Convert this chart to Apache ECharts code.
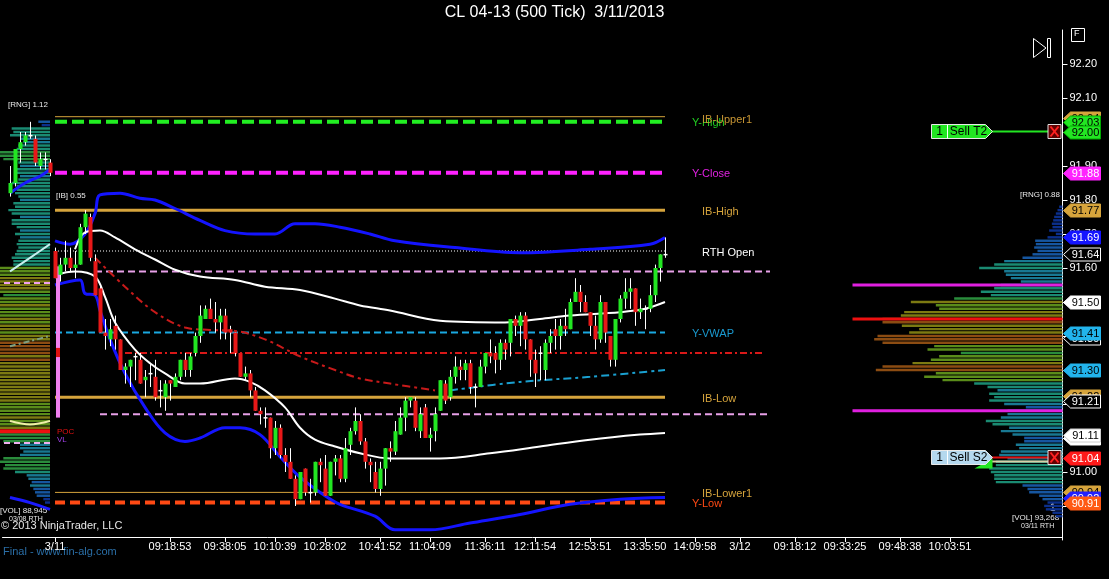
<!DOCTYPE html>
<html><head><meta charset="utf-8">
<script src="https://cdn.jsdelivr.net/npm/echarts/dist/echarts.min.js"></script>
<style>html,body{margin:0;padding:0;background:#000;}#c{width:1109px;height:579px;}</style>
</head><body><div id="c"></div>
<script>
// ---------------- DATA ----------------
const chartTitle = 'CL 04-13 (500 Tick)  3/11/2013';

// previous session (3/8) candles [open, close, low, high]
const prevCandles = [
 [91.82,91.85,91.81,91.90],[91.85,91.95,91.84,91.95],[91.95,91.97,91.91,92.00],[91.97,91.99,91.96,92.00],
 [91.99,91.99,91.98,92.03],[91.98,91.91,91.90,91.99],[91.90,91.92,91.89,91.94],[91.92,91.92,91.89,91.94],
 [91.91,91.88,91.87,91.92]
];
// 3/11 session candles [open, close, low, high]
const candles = [
 [91.65,91.57,91.57,91.66],[91.58,91.61,91.56,91.63],[91.61,91.63,91.59,91.68],[91.63,91.60,91.59,91.66],
 [91.60,91.61,91.57,91.65],[91.61,91.72,91.61,91.73],[91.72,91.76,91.70,91.77],[91.75,91.63,91.62,91.76],
 [91.62,91.52,91.52,91.64],[91.54,91.41,91.41,91.55],[91.41,91.40,91.36,91.45],[91.39,91.42,91.37,91.45],
 [91.43,91.39,91.36,91.46],[91.39,91.30,91.30,91.39],[91.30,91.31,91.26,91.32],[91.31,91.33,91.25,91.33],
 [91.34,91.34,91.27,91.35],[91.33,91.26,91.26,91.35],[91.27,91.28,91.22,91.30],[91.29,91.29,91.25,91.32],
 [91.28,91.22,91.21,91.33],[91.24,91.24,91.19,91.27],[91.22,91.26,91.18,91.27],[91.27,91.26,91.21,91.27],
 [91.25,91.28,91.25,91.29],[91.28,91.33,91.27,91.33],[91.33,91.30,91.28,91.35],[91.30,91.34,91.28,91.35],
 [91.35,91.40,91.34,91.41],[91.40,91.46,91.38,91.49],[91.45,91.48,91.45,91.49],[91.48,91.45,91.45,91.51],
 [91.45,91.44,91.41,91.50],[91.44,91.46,91.39,91.48],[91.46,91.41,91.39,91.48],[91.42,91.41,91.35,91.43],
 [91.41,91.35,91.34,91.41],[91.35,91.28,91.28,91.35],[91.28,91.29,91.27,91.31],[91.29,91.24,91.22,91.30],
 [91.24,91.18,91.18,91.25],[91.18,91.17,91.14,91.19],[91.16,91.16,91.13,91.19],[91.16,91.07,91.04,91.16],
 [91.07,91.13,91.05,91.15],[91.13,91.05,91.04,91.14],[91.05,91.03,91.00,91.07],[91.03,90.98,90.98,91.07],
 [90.98,90.92,90.90,90.99],[90.92,91.00,90.92,91.00],[91.01,90.94,90.93,91.01],[90.94,90.94,90.91,90.98],
 [90.94,91.03,90.93,91.03],[91.03,91.02,90.97,91.04],[91.01,90.93,90.93,91.05],[90.93,91.03,90.93,91.03],
 [91.03,91.04,90.99,91.05],[91.04,90.98,90.97,91.05],[90.98,91.07,90.97,91.10],[91.08,91.12,91.05,91.13],
 [91.12,91.15,91.11,91.19],[91.15,91.09,91.08,91.17],[91.09,91.03,91.01,91.10],[91.03,91.02,90.97,91.04],
 [91.00,90.95,90.94,91.03],[90.95,91.01,90.93,91.03],[91.01,91.07,90.96,91.07],[91.07,91.06,91.03,91.09],
 [91.06,91.12,91.05,91.15],[91.11,91.16,91.11,91.19],[91.16,91.21,91.12,91.22],[91.21,91.22,91.19,91.22],
 [91.21,91.13,91.12,91.22],[91.12,91.17,91.10,91.19],[91.19,91.10,91.10,91.20],[91.10,91.11,91.06,91.13],
 [91.12,91.17,91.09,91.19],[91.18,91.27,91.18,91.27],[91.26,91.21,91.20,91.27],[91.22,91.28,91.21,91.30],
 [91.28,91.31,91.26,91.34],[91.31,91.30,91.27,91.33],[91.30,91.32,91.27,91.33],[91.32,91.25,91.23,91.33],
 [91.25,91.25,91.19,91.26],[91.25,91.31,91.25,91.33],[91.31,91.35,91.29,91.35],[91.35,91.34,91.32,91.39],
 [91.35,91.33,91.29,91.37],[91.33,91.38,91.30,91.39],[91.38,91.36,91.33,91.39],[91.38,91.45,91.34,91.45],
 [91.45,91.43,91.40,91.46],[91.43,91.46,91.37,91.47],[91.46,91.39,91.36,91.47],[91.39,91.33,91.28,91.39],
 [91.33,91.29,91.25,91.36],[91.35,91.35,91.27,91.37],[91.30,91.38,91.27,91.39],[91.38,91.40,91.35,91.42],
 [91.42,91.40,91.36,91.45],[91.40,91.43,91.36,91.45],[91.43,91.42,91.40,91.48],[91.42,91.50,91.42,91.51],
 [91.50,91.53,91.50,91.57],[91.53,91.50,91.47,91.55],[91.50,91.47,91.47,91.52],[91.47,91.43,91.40,91.47],
 [91.43,91.39,91.36,91.46],[91.39,91.50,91.38,91.52],[91.50,91.41,91.38,91.50],[91.40,91.33,91.31,91.40],
 [91.33,91.45,91.31,91.45],[91.45,91.51,91.44,91.52],[91.51,91.53,91.48,91.57],[91.53,91.54,91.48,91.57],
 [91.54,91.47,91.43,91.54],[91.47,91.48,91.45,91.51],[91.48,91.48,91.42,91.49],[91.48,91.52,91.47,91.55],
 [91.52,91.60,91.50,91.61],[91.60,91.64,91.56,91.64],[91.64,91.64,91.63,91.69]
];
const prevStartIndex = 1;
const dayStartIndex = 10;
const barCount = 212;

// x-axis tick labels and the bar index where each sits
const tickIndex = [10,33,44,54,64,75,85,96,106,117,128,138,147,158,168,179,189];
const tickText  = ['3/11','09:18:53','09:38:05','10:10:39','10:28:02','10:41:52','11:04:09','11:36:11','12:11:54','12:53:51','13:35:50','14:09:58','3/12','09:18:12','09:33:25','09:48:38','10:03:51'];

// indicator curves [bar index, price]
const upperBand = [[10,91.68],[13,91.67],[16,91.70],[18,91.76],[19,91.815],[23,91.82],[27,91.805],[30,91.80],[34,91.775],[39,91.74],[44,91.71],[50,91.70],[54,91.70],[58,91.73],[62,91.73],[67,91.72],[73,91.70],[78,91.68],[90,91.66],[103,91.645],[117,91.655],[129,91.67],[132,91.69]];
const lowerBand = [[10,91.55],[15,91.565],[16,91.525],[18,91.52],[19,91.475],[21,91.39],[24,91.29],[28,91.19],[32,91.115],[36,91.09],[39,91.10],[44,91.13],[47,91.13],[51,91.11],[55,91.045],[59,90.985],[64,90.93],[67,90.905],[74,90.87],[78,90.83],[85,90.83],[93,90.85],[103,90.875],[113,90.905],[123,90.92],[132,90.925]];
const upperWhite = [[14,91.655],[16,91.705],[19,91.71],[22,91.69],[26,91.655],[30,91.625],[34,91.595],[39,91.575],[46,91.565],[52,91.545],[59,91.535],[66,91.51],[71,91.49],[77,91.475],[87,91.445],[100,91.44],[107,91.45],[113,91.46],[123,91.47],[128,91.48],[132,91.50]];
const lowerWhite = [[10,91.58],[14,91.59],[18,91.575],[20,91.515],[22,91.44],[26,91.36],[29,91.32],[32,91.29],[36,91.26],[39,91.26],[46,91.275],[49,91.265],[52,91.24],[56,91.19],[59,91.13],[62,91.095],[66,91.075],[71,91.055],[77,91.04],[87,91.04],[97,91.055],[107,91.075],[117,91.095],[127,91.11],[132,91.115]];
const redTrend = [[18,91.63],[24,91.545],[30,91.47],[36,91.425],[41,91.418],[46,91.415],[52,91.39],[59,91.34],[66,91.30],[71,91.275],[77,91.26],[86,91.24]];
const cyanTrend = [[89,91.24],[103,91.265],[117,91.28],[132,91.30]];
// previous session curves
const prevUpper = [[1,91.82],[4,91.85],[7,91.87],[9,91.89]];
const prevMid = [[1,91.59],[5,91.63],[9,91.67]];
const prevLower = [[1,90.925],[5,90.91],[9,90.89]];
const prevCream = [[1,91.15],[5,91.14],[9,91.15]];
const prevDashDot = [[1,91.37],[5,91.385],[9,91.40]];

// price levels
const yHigh = 92.03, ibUpper1 = 92.045, yClose = 91.88, ibHigh = 91.77, rthOpen = 91.65;
const devVAH = 91.59, yVwap = 91.41, devPOC = 91.35, ibLow = 91.22, devVAL = 91.17, ibLower1 = 90.94, yLow = 90.91;
const levelNames  = ['Y-High','IB-Upper1','Y-Close','IB-High','RTH Open','Y-VWAP','IB-Low','IB-Lower1','Y-Low'];
const levelPrices = [92.03, 92.04, 91.88, 91.77, 91.65, 91.41, 91.22, 90.94, 90.91];

// session range bar on first bar
const sessionRange = [91.16, 91.605];
const sessionMark = [91.338, 91.365];

// volume profiles (per 0.01)
const leftProfileTop = 92.03;
const leftProfile = [175,125,575,550,600,450,400,475,500,800,800,700,475,450,525,500,450,475,575,500,500,525,475,450,550,525,625,575,450,575,575,500,450,525,450,475,500,475,500,525,575,550,550,950,960,860,1000,1000,1000,1000,950,700,850,850,1000,880,950,850,980,900,1000,1000,880,1020,1050,1200,1250,1150,1150,1120,1150,1100,1080,1120,1050,1020,1000,1100,1000,980,1000,980,1000,960,900,960,960,980,950,950,980,1300,800,750,700,450,450,400,450,700,750,675,700,525,350,325,275,300,250,225,200,100,75];
const leftVAH = 91.556, leftPOC = 91.12, leftVAL = 91.085;
const rightProfileTop = 91.78;
const rightProfile = [50,75,100,125,140,160,150,200,100,225,410,400,425,375,450,600,875,1025,1250,875,850,775,625,925,1025,1225,1075,1625,2275,1900,1850,2375,2425,2700,2700,2410,2150,2300,2775,2825,2700,1925,2025,1525,1850,1975,2250,2700,2800,1900,2075,1800,1325,1125,975,1100,1025,1100,875,550,825,825,925,1150,1050,800,925,750,575,575,700,650,925,950,825,1000,1000,1100,1075,1025,1025,1000,600,525,500,350,300,225,275,250,150,100];
const rightVAH = 91.55, rightPOC = 91.45, rightVAL = 91.18;

// right-axis price tags
const tagPrices = [92.04,92.03,92.00,91.88,91.77,91.69,91.64,91.50,91.395,91.41,91.30,91.225,91.21,91.10,91.11,91.04,90.94,90.925,90.91];
// orders
const orderPrices = [92.00, 91.04];
const orderNames = ['Sell T2','Sell S2'];
const orderQty = [1, 1];

// ---------------- STYLES ----------------
const G = '#22e622', R = '#e81818', GOLD = '#d6a43c';
const tagStyles = [
 [GOLD,'#000',GOLD],[G,'#000','#0a0'],[G,'#000','#0a0'],['#ff22ff','#fff','#ff22ff'],[GOLD,'#000',GOLD],
 ['#1414ff','#fff','#1414ff'],['#000','#fff','#fff'],['#fff','#000','#fff'],['#000','#fff','#fff'],['#22b4ec','#000','#22b4ec'],
 ['#22b4ec','#000','#22b4ec'],[GOLD,'#000',GOLD],['#000','#fff','#fff'],['#fff','#000','#fff'],['#fff','#000','#ccc'],
 ['#ff1a1a','#fff','#ff1a1a'],[GOLD,'#000',GOLD],['#2020ff','#fff','#2020ff'],['#ff5a14','#fff','#ff5a14']
];
const levelColors = ['#22cc22','#c89634','#e020e0','#d6a43c','#ffffff','#1a9ad0','#d6a43c','#d6a43c','#ff4a14'];
const levelLabelIdx = [137,139,137,139,139,137,139,139,137];
const orderStyles = [
 {box:G, line:G, text:'#000'},
 {box:'#b4d8ee', line:'#e01010', text:'#000'}
];
const profColors = ['#0b2f8c','#1656a0','#187892','#1a8a72','#2a8c3c','#5a8c1a','#7c7a12','#8c4c12'];
const profStops = [0.1,0.22,0.35,0.5,0.62,0.75,0.88];
function profColor(f){ let k=0; while(k<profStops.length && f>=profStops[k]) k++; return profColors[k]; }

// ---------------- BUILD ----------------
const cats = new Array(barCount).fill('');
tickIndex.forEach((ix,k)=>{ cats[ix] = tickText[k]; });

const candleData = [];
prevCandles.forEach((c,k)=>candleData.push([prevStartIndex+k, c[0], c[1], c[2], c[3]]));
candles.forEach((c,k)=>candleData.push([dayStartIndex+k, c[0], c[1], c[2], c[3]]));
const lastIdx = dayStartIndex + candles.length - 1;

function renderCandle(params, api){
  const i = api.value(0), o = api.value(1), c = api.value(2), l = api.value(3), h = api.value(4);
  const pO = api.coord([i,o]), pC = api.coord([i,c]), pL = api.coord([i,l]), pH = api.coord([i,h]);
  const x = Math.round(pO[0]);
  const top = Math.min(pO[1],pC[1]), bot = Math.max(pO[1],pC[1]);
  const flat = Math.abs(c-o) < 0.001;
  const col = flat ? '#ffffff' : (c > o ? G : R);
  return {type:'group', children:[
    {type:'line', shape:{x1:x+0.5,y1:pH[1],x2:x+0.5,y2:pL[1]}, style:{stroke:'#ffffff',lineWidth:1}},
    {type:'rect', shape:{x:x-1.5,y:flat?top-0.5:top,width:4,height:flat?1.5:Math.max(bot-top,1.5)}, style:{fill:col}}
  ]};
}

function profileRender(maxV){
  return function(params, api){
    const v = api.value(0), p = api.value(1);
    const a = api.coord([0,p]), b = api.coord([v,p]);
    const h = api.size([0,0.01])[1];
    const x0 = Math.min(a[0],b[0]);
    return {type:'rect', shape:{x:x0, y:a[1]-h*0.38, width:Math.abs(a[0]-b[0]), height:h*0.72}, style:{fill:profColor(v/maxV)}};
  };
}
const leftMax = Math.max(...leftProfile), rightMax = Math.max(...rightProfile);

function hline(price, i0, i1, color, width, type, z){
  return {type:'line', xAxisIndex:0, yAxisIndex:0, data:[[i0,price],[i1,price]], symbol:'none', silent:true,
    lineStyle:{color:color, width:width, type:type}, z:z||3};
}
function curve(data, color, width, type, z){
  return {type:'line', xAxisIndex:0, yAxisIndex:0, data:data, symbol:'none', smooth:0.35, silent:true,
    lineStyle:{color:color, width:width, type:type||'solid'}, z:z||4};
}
function profLine(gi, price, maxX, color, width, type){
  return {type:'line', xAxisIndex:gi, yAxisIndex:gi, data:[[0,price],[maxX,price]], symbol:'none', silent:true,
    lineStyle:{color:color,width:width,type:type||'solid'}, z:2};
}

function renderTag(params, api){
  const p = api.value(1);
  const y = Math.round(api.coord([0,p])[1]) + 0.5;
  const cs = params.coordSys;
  const x0 = cs.x + cs.width + 1;
  const st = tagStyles[params.dataIndex];
  return {type:'group', children:[
    {type:'polygon', shape:{points:[[x0,y],[x0+7,y-6.5],[x0+37,y-6.5],[x0+37,y+6.5],[x0+7,y+6.5]]},
      style:{fill:st[0], stroke:st[2], lineWidth:1}},
    {type:'text', style:{x:x0+22, y:y+0.5, text:p.toFixed(2), textAlign:'center', textVerticalAlign:'middle', align:'center', verticalAlign:'middle',
      fill:st[1], font:'11px "Liberation Sans", Arial, sans-serif'}}
  ]};
}

function renderOrder(params, api){
  const p = api.value(1);
  const k = params.dataIndex;
  const y = Math.round(api.coord([0,p])[1]) - 0.5;
  const cs = params.coordSys;
  const xr = cs.x + cs.width;
  const st = orderStyles[k];
  const ch = [];
  if (k === 1) {
    ch.push({type:'line', shape:{x1:xr-76,y1:y+4,x2:xr-12,y2:y+4}, style:{stroke:'#d8d0a8',lineWidth:2}});
    ch.push({type:'polygon', shape:{points:[[xr-88,y+11],[xr-70,y+11],[xr-70,y+1]]}, style:{fill:G}});
  }
  ch.push({type:'line', shape:{x1:xr-72,y1:y,x2:xr-12,y2:y}, style:{stroke:st.line,lineWidth:2}});
  ch.push({type:'polygon', shape:{points:[[xr-131,y-7],[xr-77,y-7],[xr-70,y],[xr-77,y+7],[xr-131,y+7]]}, style:{fill:st.box, stroke:'#e8e8e8', lineWidth:1}});
  ch.push({type:'line', shape:{x1:xr-115,y1:y-7,x2:xr-115,y2:y+7}, style:{stroke:'#ffffff',lineWidth:1}});
  ch.push({type:'text', style:{x:xr-123, y:y+0.5, text:String(orderQty[k]), align:'center', verticalAlign:'middle', textAlign:'center', textVerticalAlign:'middle', fill:st.text, font:'12px "Liberation Sans", Arial'}});
  ch.push({type:'text', style:{x:xr-94, y:y+0.5, text:orderNames[k], align:'center', verticalAlign:'middle', textAlign:'center', textVerticalAlign:'middle', fill:st.text, font:'12px "Liberation Sans", Arial'}});
  ch.push({type:'rect', shape:{x:xr-14.5,y:y-7,width:13,height:14}, style:{fill:'#600000', stroke:'#e0e0e0', lineWidth:1}});
  ch.push({type:'line', shape:{x1:xr-12,y1:y-5,x2:xr-4,y2:y+5}, style:{stroke:'#ff2020',lineWidth:2}});
  ch.push({type:'line', shape:{x1:xr-4,y1:y-5,x2:xr-12,y2:y+5}, style:{stroke:'#ff2020',lineWidth:2}});
  return {type:'group', children:ch};
}

function renderSession(params, api){
  const lo = api.value(1), hi = api.value(2), m0 = api.value(3), m1 = api.value(4);
  const a = api.coord([api.value(0), hi]), b = api.coord([api.value(0), lo]);
  const c = api.coord([api.value(0), m1]), d = api.coord([api.value(0), m0]);
  const x = Math.round(a[0]) + 1;
  return {type:'group', children:[
    {type:'rect', shape:{x:x, y:a[1], width:4, height:b[1]-a[1]}, style:{fill:'#f080f0'}},
    {type:'rect', shape:{x:x, y:c[1], width:4, height:d[1]-c[1]}, style:{fill:'#e01010'}}
  ]};
}

function renderLevelLabel(params, api){
  const k = params.dataIndex;
  const pt = api.coord([api.value(0), api.value(1)]);
  return {type:'text', style:{x:pt[0]+2, y:pt[1]+1.5, text:levelNames[k], align:'left', verticalAlign:'middle', textAlign:'left', textVerticalAlign:'middle',
    fill:levelColors[k], font:'11px "Liberation Sans", Arial, sans-serif'}};
}

const fontS = '"Liberation Sans", Arial, sans-serif';
const yAxisBase = {type:'value', min:90.8, max:92.3, interval:0.1, scale:true};

const option = {
  backgroundColor:'#000000',
  animation:false,
  grid:[
    {left:2.5, top:30, width:1060, height:510},
    {left:0, top:30, width:50, height:510},
    {left:852.5, top:30, width:210, height:510}
  ],
  xAxis:[
    {type:'category', gridIndex:0, data:cats, boundaryGap:true, offset:-3,
     axisLine:{show:true, lineStyle:{color:'#ffffff', width:1}},
     axisTick:{show:true, alignWithLabel:true, interval:(i)=>cats[i]!=='', length:5, lineStyle:{color:'#ffffff'}},
     axisLabel:{interval:(i)=>cats[i]!=='', color:'#ffffff', fontSize:11, fontFamily:fontS, margin:4},
     splitLine:{show:false}},
    {type:'value', gridIndex:1, min:0, max:750, inverse:true, show:false},
    {type:'value', gridIndex:2, min:0, max:3150, inverse:true, show:false}
  ],
  yAxis:[
    Object.assign({}, yAxisBase, {gridIndex:0, position:'right',
      axisLine:{show:true, lineStyle:{color:'#ffffff', width:1}},
      axisTick:{show:true, length:5, lineStyle:{color:'#ffffff'}},
      axisLabel:{color:'#ffffff', fontSize:11, fontFamily:fontS, margin:7, showMinLabel:false, showMaxLabel:false, formatter:(v)=>v.toFixed(2)},
      splitLine:{show:false}}),
    Object.assign({}, yAxisBase, {gridIndex:1, show:false}),
    Object.assign({}, yAxisBase, {gridIndex:2, show:false})
  ],
  series:[
    {type:'custom', xAxisIndex:1, yAxisIndex:1, renderItem:profileRender(leftMax), silent:true, z:1,
     data:leftProfile.map((v,k)=>[v, +(leftProfileTop - k*0.01).toFixed(2)])},
    profLine(1, leftVAH, 750, '#f0a0f0', 2, [6,4]),
    profLine(1, leftVAL, 750, '#f0b0f0', 2, [6,4]),
    profLine(1, leftPOC, 750, '#ee1010', 4),
    {type:'custom', xAxisIndex:2, yAxisIndex:2, renderItem:profileRender(rightMax), silent:true, z:1,
     data:rightProfile.map((v,k)=>[v, +(rightProfileTop - k*0.01).toFixed(2)])},
    profLine(2, rightVAH, 3150, '#e020e0', 3),
    profLine(2, rightVAL, 3150, '#e020e0', 3),
    profLine(2, rightPOC, 3150, '#ee1010', 3),
    curve(prevUpper, '#1a1aff', 3),
    curve(prevMid, '#c8f0f0', 2),
    curve(prevLower, '#1a1aff', 3),
    curve(prevCream, '#f0f0a8', 2),
    curve(prevDashDot, '#80a080', 2, [6,3,2,3]),
    hline(ibUpper1, dayStartIndex, lastIdx, GOLD, 1),
    hline(yHigh, dayStartIndex, lastIdx, '#22ee22', 4, [12,5]),
    hline(yClose, dayStartIndex, lastIdx, '#ff22ff', 4, [12,5]),
    hline(ibHigh, dayStartIndex, lastIdx, GOLD, 3),
    hline(rthOpen, dayStartIndex, lastIdx, '#ffffff', 1, [1,2]),
    hline(devVAH, 18, 153, '#e8a0e8', 2, [7,4]),
    hline(yVwap, dayStartIndex, lastIdx, '#1aa8e0', 2, [7,4]),
    hline(devPOC, 24, 152, '#d81818', 2, [7,3,2,3]),
    hline(ibLow, dayStartIndex, lastIdx, GOLD, 3),
    hline(devVAL, 19, 153, '#e8a0e8', 2, [7,4]),
    hline(ibLower1, dayStartIndex, lastIdx, GOLD, 1),
    hline(yLow, dayStartIndex, lastIdx, '#ff4a14', 4, [10,5]),
    curve(upperBand, '#1414ff', 3),
    curve(lowerBand, '#1414ff', 3),
    curve(upperWhite, '#ffffff', 2),
    curve(lowerWhite, '#ffffff', 2),
    curve(redTrend, '#c81a1a', 2, [8,4,3,4]),
    curve(cyanTrend, '#1aa0d0', 2, [8,4,3,4]),
    {type:'custom', xAxisIndex:0, yAxisIndex:0, renderItem:renderSession, silent:true, z:5,
     data:[[dayStartIndex, sessionRange[0], sessionRange[1], sessionMark[0], sessionMark[1]]]},
    {type:'custom', xAxisIndex:0, yAxisIndex:0, renderItem:renderCandle, silent:true, z:6, data:candleData},
    {type:'custom', xAxisIndex:0, yAxisIndex:0, renderItem:renderLevelLabel, silent:true, z:7,
     data:levelPrices.map((p,k)=>[levelLabelIdx[k], p])},
    {type:'custom', xAxisIndex:0, yAxisIndex:0, renderItem:renderOrder, clip:false, silent:true, z:8,
     data:orderPrices.map(p=>[0,p])},
    {type:'custom', xAxisIndex:0, yAxisIndex:0, renderItem:renderTag, clip:false, silent:true, z:10,
     data:tagPrices.map(p=>[0,p])}
  ],
  graphic:[
    {type:'text', left:'center', top:5, style:{text:chartTitle, fill:'#ffffff', font:'16px '+fontS}},
    {type:'rect', left:1071, top:28, shape:{width:13,height:13}, style:{fill:'#000',stroke:'#ffffff',lineWidth:1}},
    {type:'text', left:1074, top:29, style:{text:'F', fill:'#ffffff', font:'9px '+fontS}},
    {type:'polygon', shape:{points:[[1033.5,38.5],[1046,48],[1033.5,57.5]]}, style:{fill:'none',stroke:'#ffffff',lineWidth:1}},
    {type:'rect', shape:{x:1047.5,y:38.5,width:3,height:19}, style:{fill:'none',stroke:'#ffffff',lineWidth:1}},
    {type:'text', left:8, top:101, style:{text:'[RNG] 1.12', fill:'#e8e8e8', font:'8px '+fontS}},
    {type:'text', left:56, top:192, style:{text:'[IB] 0.55', fill:'#e8e8e8', font:'8px '+fontS}},
    {type:'text', left:1020, top:191, style:{text:'[RNG] 0.88', fill:'#e8e8e8', font:'8px '+fontS}},
    {type:'text', left:57, top:428, style:{text:'POC', fill:'#e01010', font:'8px '+fontS}},
    {type:'text', left:57, top:436, style:{text:'VL', fill:'#a040e8', font:'8px '+fontS}},
    {type:'text', left:0, top:507, style:{text:'[VOL] 88,945', fill:'#e8e8e8', font:'8px '+fontS}},
    {type:'text', left:9, top:516, style:{text:'03/08 RTH', fill:'#e8e8e8', font:'7px '+fontS}},
    {type:'text', left:1050, top:503, style:{text:'1', fill:'#ffffff', font:'10px '+fontS}},
    {type:'text', left:1012, top:514, style:{text:'[VOL] 93,268', fill:'#e8e8e8', font:'8px '+fontS}},
    {type:'text', left:1021, top:523, style:{text:'03/11 RTH', fill:'#e8e8e8', font:'7px '+fontS}},
    {type:'text', left:1, top:520, style:{text:'\u00a9 2013 NinjaTrader, LLC', fill:'#e8e8e8', font:'11px '+fontS}},
    {type:'text', left:3, top:546, style:{text:'Final - www.fin-alg.com', fill:'#2a6ea6', font:'11px '+fontS}}
  ]
};

const chart = echarts.init(document.getElementById('c'), null, {width:1109, height:579});
chart.setOption(option);
</script></body></html>
